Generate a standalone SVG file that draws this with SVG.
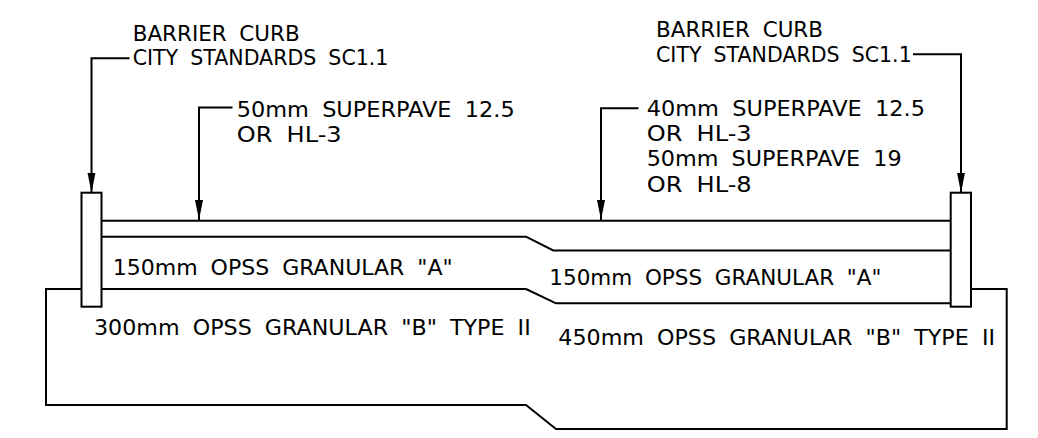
<svg xmlns="http://www.w3.org/2000/svg" width="1038" height="438" viewBox="0 0 1038 438">
<style>
.ln{fill:none;stroke:#000;stroke-width:2;stroke-linejoin:miter}
.curb{fill:#fff;stroke:#000;stroke-width:2}
.t{font-family:"DejaVu Sans","Liberation Sans",Arial,sans-serif;font-size:22px;fill:#000;word-spacing:6px}
.ld{fill:none;stroke:#000;stroke-width:2;marker-end:url(#arr)}
</style>
<defs>
<marker id="arr" markerUnits="userSpaceOnUse" markerWidth="20" markerHeight="10" viewBox="-18 -4 18 8" refX="0" refY="0" orient="auto">
<path d="M0,0 L-18,-3.6 L-18,3.6 Z" fill="#000"/>
</marker>
</defs>
<rect width="1038" height="438" fill="#fff"/>
<g id="granular-b">
<path class="ln" d="M526,289 L46,289 L46,405 L526,405 L556,429 L1006.7,429 L1006.7,289 L971,289"/>
<path class="ln" d="M526,289 L556,303.3 L950.7,303.3"/>
</g>
<g id="granular-a">
<path class="ln" d="M101.5,236.7 L526,236.7 L553.3,250.5 L950.7,250.5"/>
</g>
<g id="asphalt">
<path class="ln" d="M101.5,220.7 L950.7,220.7"/>
</g>
<g id="curb-left">
<rect class="curb" x="81.5" y="192.7" width="20" height="114"/>
</g>
<g id="curb-right">
<rect class="curb" x="950.7" y="192.7" width="20.3" height="114"/>
</g>
<g id="connectors">
<path class="ld" d="M129.5,58.3 L91.5,58.3 L91.5,192.7"/>
<path class="ld" d="M913,54.3 L961,54.3 L961,192.7"/>
<path class="ld" d="M232.5,107.5 L199,107.5 L199,220"/>
<path class="ld" d="M638.5,108.3 L601,108.3 L601,220"/>
</g>
<g id="label-curb-left">
<text class="t" x="132.7" y="40.7" textLength="167" lengthAdjust="spacingAndGlyphs">BARRIER CURB</text>
<text class="t" x="132.7" y="65" textLength="255.7" lengthAdjust="spacingAndGlyphs">CITY STANDARDS SC1.1</text>
</g>
<g id="label-curb-right">
<text class="t" x="656" y="36.7" textLength="167" lengthAdjust="spacingAndGlyphs">BARRIER CURB</text>
<text class="t" x="656" y="61.7" textLength="255.7" lengthAdjust="spacingAndGlyphs">CITY STANDARDS SC1.1</text>
</g>
<g id="label-asphalt-left">
<text class="t" x="236.7" y="116.7" textLength="278" lengthAdjust="spacingAndGlyphs">50mm SUPERPAVE 12.5</text>
<text class="t" x="236.7" y="142.3" textLength="105" lengthAdjust="spacingAndGlyphs">OR HL-3</text>
</g>
<g id="label-asphalt-right">
<text class="t" x="646.7" y="116" textLength="278.3" lengthAdjust="spacingAndGlyphs">40mm SUPERPAVE 12.5</text>
<text class="t" x="646.7" y="140.5" textLength="105" lengthAdjust="spacingAndGlyphs">OR HL-3</text>
<text class="t" x="646.7" y="165.7" textLength="255" lengthAdjust="spacingAndGlyphs">50mm SUPERPAVE 19</text>
<text class="t" x="646.7" y="191.5" textLength="105" lengthAdjust="spacingAndGlyphs">OR HL-8</text>
</g>
<g id="label-granular-a-left">
<text class="t" x="112.7" y="275" textLength="340" lengthAdjust="spacingAndGlyphs">150mm OPSS GRANULAR "A"</text>
</g>
<g id="label-granular-a-right">
<text class="t" x="549.3" y="285" textLength="332" lengthAdjust="spacingAndGlyphs">150mm OPSS GRANULAR "A"</text>
</g>
<g id="label-granular-b-left">
<text class="t" x="94" y="335" textLength="436.7" lengthAdjust="spacingAndGlyphs">300mm OPSS GRANULAR "B" TYPE II</text>
</g>
<g id="label-granular-b-right">
<text class="t" x="558.3" y="345" textLength="436.7" lengthAdjust="spacingAndGlyphs">450mm OPSS GRANULAR "B" TYPE II</text>
</g>
</svg>
